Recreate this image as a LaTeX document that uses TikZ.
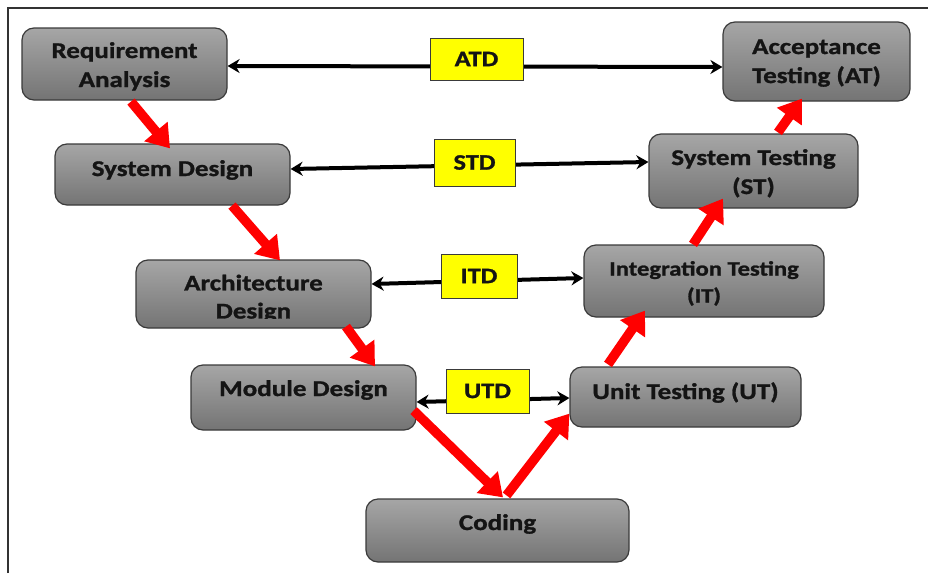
\documentclass[tikz,border=0pt]{standalone}
\usepackage{fontspec}
\setmainfont{Carlito}[FakeStretch=1.2, BoldFeatures={FakeBold=1.2}]
\usetikzlibrary{arrows.meta}
\definecolor{boxtop}{RGB}{166,166,166}
\definecolor{boxbot}{RGB}{116,116,116}
\definecolor{boxline}{RGB}{58,58,58}
\definecolor{tagfill}{RGB}{255,255,0}
\definecolor{flowred}{RGB}{255,0,0}
\definecolor{inkc}{RGB}{20,20,20}
\definecolor{framec}{RGB}{50,50,50}
% one line whose baseline sits the given amount above the node centre
\newcommand{\oneline}[2]{\raisebox{#1}[0pt][0pt]{#2}}
% two centred lines; the first baseline sits the given amount above the node centre
\newcommand{\twolines}[3]{\raisebox{#1}[0pt][0pt]{\begin{tabular}[t]{@{}c@{}}#2\\#3\end{tabular}}}
\begin{document}
\begin{tikzpicture}[x=1pt,y=-1pt,
  phase/.style={draw=boxline, line width=1.2pt, rounded corners=12pt,
    top color=boxtop, bottom color=boxbot, inner sep=0pt, align=center,
    font=\bfseries\fontsize{22.5}{29}\selectfont, text=inkc},
  phasetext/.style={inner sep=0pt, align=center,
    font=\bfseries\fontsize{22.5}{28}\selectfont, text=inkc},
  tag/.style={draw=boxline, line width=0.8pt, fill=tagfill, inner sep=0pt,
    font=\bfseries\fontsize{22}{25}\selectfont, text=inkc},
  link/.style={draw=black, line width=4pt,
    {Stealth[length=12pt,width=14pt]}-{Stealth[length=12pt,width=14pt]}},
  flow/.style={draw=flowred, line width=9.5pt,
    -{Triangle[width=29pt,length=22pt]}},
]
\useasboundingbox (0,0) rectangle (928,573);

% outer frame (left and top edges)
\draw[framec, line width=1.5pt] (8,573) -- (8,8) -- (928,8);

% development phases (left branch)
\node[phase, minimum width=205pt, minimum height=72pt] (ra) at (124.5,64) {\twolines{6pt}{Requirement}{Analysis}};
\node[phase, minimum width=235pt, minimum height=61pt] (sd) at (172.5,174.5) {\oneline{-1.5pt}{System Design}};
\node[phase, minimum width=235pt, minimum height=68pt] (ad) at (253.5,294) {};
\begin{scope}
  \clip (ad.north west) rectangle ([yshift=10pt]ad.south east);
  \node[phasetext] (adtext) at ([yshift=-4.5pt]ad.center) {Architecture\\Design};
\end{scope}
\node[phase, minimum width=225pt, minimum height=65pt] (md) at (303.5,397.5) {\oneline{1.5pt}{Module Design}};
\node[phase, minimum width=263pt, minimum height=63pt] (cd) at (497.5,530.5) {\oneline{0.5pt}{Coding}};

% testing phases (right branch)
\node[phase, minimum width=231pt, minimum height=60pt] (ut) at (685.5,397) {\oneline{-2pt}{Unit Testing (UT)}};
\node[phase, minimum width=240pt, minimum height=72pt,
      font=\bfseries\fontsize{20.5}{27}\selectfont] (it) at (704,281) {\twolines{5.4pt}{Integration Testing}{(IT)}};
\node[phase, minimum width=209pt, minimum height=74pt] (st) at (753.5,171) {\twolines{6pt}{System Testing}{(ST)}};
\node[phase, minimum width=187pt, minimum height=79pt] (at) at (816.5,61.5) {\twolines{7.5pt}{Acceptance}{Testing (AT)}};

% test design links between matching levels
\draw[link] ([yshift=-2pt]ra.east) -- ([yshift=-5.5pt]at.west);
\draw[link] ([yshift=5.5pt]sd.east) -- ([yshift=9pt]st.west);
\draw[link] ([yshift=10pt]ad.east) -- ([yshift=3pt]it.west);
\draw[link] ([yshift=-4.5pt]md.east) -- ([yshift=-1pt]ut.west);

\node[tag, minimum width=93pt, minimum height=42pt] (atd) at (476.5,59) {ATD};
\node[tag, minimum width=81pt, minimum height=47pt] (std) at (474.5,162.5) {STD};
\node[tag, minimum width=76pt, minimum height=44pt] (itd) at (479,276) {ITD};
\node[tag, minimum width=83pt, minimum height=44pt] (utd) at (487.5,391) {UTD};

% process flow down the V and back up
\draw[flow] ([xshift=6.5pt,yshift=-1pt]ra.south) -- ([xshift=-2.5pt,yshift=-5pt]sd.north);
\draw[flow] ([xshift=59.5pt,yshift=0pt]sd.south) -- ([xshift=26.5pt,yshift=-1pt]ad.north);
\draw[flow] ([xshift=92.5pt,yshift=2pt]ad.south) -- ([xshift=71.5pt,yshift=-2pt]md.north);
\draw[flow] ([xshift=-3pt,yshift=20pt]md.south east) -- ([xshift=5.5pt,yshift=1pt]cd.north);
\draw[flow] ([xshift=9pt,yshift=3pt]cd.north) -- ([yshift=14pt]ut.south west);
\draw[flow] ([xshift=-77.5pt,yshift=2pt]ut.north) -- ([xshift=-59pt,yshift=7pt]it.south);
\draw[flow] ([xshift=-11pt]it.north) -- ([xshift=-30.5pt,yshift=10pt]st.south);
\draw[flow] ([xshift=24.5pt,yshift=1pt]st.north) -- ([xshift=-14.5pt,yshift=3pt]at.south);
\end{tikzpicture}
\end{document}
